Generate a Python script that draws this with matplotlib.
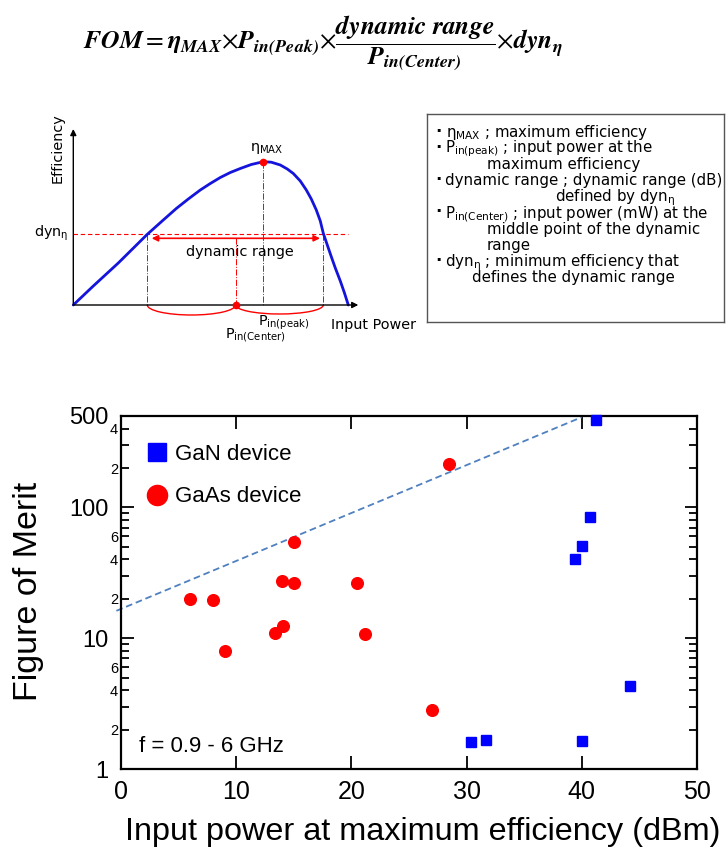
import matplotlib
matplotlib.use('Agg')
import matplotlib.pyplot as plt
from matplotlib.lines import Line2D
from matplotlib.patches import Arc
from matplotlib.ticker import FixedLocator, FixedFormatter

plt.rcParams['font.family'] = ['Liberation Sans', 'DejaVu Sans']
plt.rcParams['mathtext.fontset'] = 'custom'
plt.rcParams['mathtext.rm'] = 'Liberation Sans'
plt.rcParams['mathtext.it'] = 'Liberation Sans'
plt.rcParams['mathtext.bf'] = 'Liberation Sans:bold'

# ---------------- data (main chart) ----------------
gan_power = [41.2, 40.7, 40.0, 39.4, 44.2, 30.4, 31.7, 40.0]
gan_fom = [465, 85, 51, 40, 4.3, 1.6, 1.68, 1.63]
gaas_power = [6.0, 8.0, 9.0, 13.4, 14.1, 14.0, 15.0, 15.0, 20.5, 21.2, 28.5, 27.0]
gaas_fom = [20, 19.6, 8.0, 10.9, 12.5, 27.2, 26.3, 54.5, 26.3, 10.8, 215, 2.84]
trend_power = [-0.4, 40.0]
trend_fom = [16.2, 490]

x_ticks = [0, 10, 20, 30, 40, 50]
x_tick_labels = ['0', '10', '20', '30', '40', '50']
y_major = [1, 10, 100, 500]
y_major_labels = ['1', '10', '100', '500']
y_minor = [2, 3, 4, 5, 6, 7, 8, 9, 20, 30, 40, 50, 60, 70, 80, 90, 200, 300, 400]
y_minor_labels = ['2', '', '4', '', '6', '', '', '', '2', '', '4', '', '6', '', '', '', '2', '', '4']
series_labels = ['GaN device', 'GaAs device']

# ---------------- data (schematic efficiency curve, arbitrary units) ----------------
curve_power = [0, 20, 45, 74, 90, 103, 115, 127, 137, 147, 157, 167, 178, 190, 198, 207,
               214, 220, 227, 233, 238, 243, 247, 250, 254, 258, 262, 267, 271, 275]
curve_eff = [0, 19, 42, 70.7, 85, 96.5, 106, 115, 121.5, 127.5, 132.5, 136.5, 140.5, 143.3,
             142.8, 140, 136, 131.5, 124, 115, 106, 95, 84, 71.7, 60, 48.3, 37, 24, 12.5, 0]
dyn_level = 70.7
dyn_low, dyn_high = 74, 250
p_center = 162.3
p_peak, eta_max = 190, 143.3

W, H = 727, 858
fig = plt.figure(figsize=(W / 100, H / 100), dpi=100)


def fx(px):
    return px / W


def fy(py):
    return 1 - py / H


# ---------------- formula ----------------
formula = (r'$\mathbfit{FOM} = \mathbfit{\eta}_{\mathbfit{MAX}}{\times}\mathbfit{P}_{\mathbfit{in(Peak)}}'
           r'{\times}\dfrac{\mathbfit{dynamic\ range}}{\mathbfit{P}_{\mathbfit{in(Center)}}}'
           r'{\times}\mathbfit{dyn}_{\mathbfit{\eta}}$')
fig.text(fx(323), fy(43), formula, ha='center', va='center', fontsize=18.5, math_fontfamily='stix')

SANS = ['DejaVu Sans']

# ---------------- schematic ----------------
axs = fig.add_axes([fx(73.3 - 30), fy(305 + 45), 400 / W, 230 / H])
axs.set_xlim(-30, 370)
axs.set_ylim(-45, 185)
axs.axis('off')
axs.annotate('', xy=(285, 0), xytext=(0, 0),
             arrowprops=dict(arrowstyle='-|>', color='black', lw=1, mutation_scale=9,
                             shrinkA=0, shrinkB=0))
axs.annotate('', xy=(0, 176), xytext=(0, 0),
             arrowprops=dict(arrowstyle='-|>', color='black', lw=1, mutation_scale=9,
                             shrinkA=0, shrinkB=0))
axs.plot([0, 275], [dyn_level, dyn_level], color='red', lw=0.8, ls=(0, (4, 2.5)))
axs.plot([dyn_low, dyn_low], [dyn_level, 0], color='red', lw=0.7, ls='-.')
axs.plot([dyn_high, dyn_high], [dyn_level, 0], color='red', lw=0.7, ls='-.')
axs.plot([p_peak, p_peak], [eta_max, 0], color='red', lw=0.7, ls='-.')
axs.plot([p_center, p_center], [dyn_level - 4, 0], color='red', lw=0.7, ls='-.')
axs.plot(curve_power, curve_eff, color='#1414dc', lw=2.0, solid_capstyle='round')
axs.annotate('', xy=(dyn_high - 3.3, dyn_level - 4), xytext=(dyn_low + 4.4, dyn_level - 4),
             arrowprops=dict(arrowstyle='<|-|>', color='red', lw=1.2, mutation_scale=9,
                             shrinkA=0, shrinkB=0))
axs.add_patch(Arc(((dyn_low + p_center) / 2, 0), p_center - dyn_low, 20, theta1=180, theta2=360,
                  color='red', lw=1))
axs.add_patch(Arc(((p_center + dyn_high) / 2, 0), dyn_high - p_center, 18, theta1=180, theta2=360,
                  color='red', lw=1))
axs.plot([p_center, p_peak], [0, eta_max], ls='none', marker='o', ms=4.5, color='red', zorder=5)
sfs = 10.4
skw = dict(fontsize=sfs, family=SANS, math_fontfamily='dejavusans')
axs.text(-15.3, 157, 'Efficiency', rotation=90, ha='center', va='center', **skw)
axs.text(257.7, -20, 'Input Power', ha='left', va='center', **skw)
axs.text(166.9, 53.3, 'dynamic range', ha='center', va='center', **skw)
axs.text(-5.3, 68.3, r'dyn$_{\mathrm{\eta}}$', ha='right', va='baseline', **skw)
axs.text(193.7, 154.3, r'$\mathrm{\eta_{MAX}}$', ha='center', va='baseline', **skw)
axs.text(185, -21, r'P$_{\mathrm{in(peak)}}$', ha='left', va='baseline', **skw)
axs.text(151.7, -33.3, r'P$_{\mathrm{in(Center)}}$', ha='left', va='baseline', **skw)

# ---------------- definitions box ----------------
axb = fig.add_axes([fx(427), fy(322), (724 - 427) / W, (322 - 114) / H])
axb.set_xlim(0, 297)
axb.set_ylim(208, 0)
axb.set_xticks([])
axb.set_yticks([])
for sp in axb.spines.values():
    sp.set_color('#555555')
    sp.set_linewidth(1)
box_lines = [
    (19.5, 22.5, True, r'$\mathrm{\eta_{MAX}}$ ; maximum efficiency'),
    (18, 38.7, True, r'P$_{\mathrm{in(peak)}}$ ; input power at the'),
    (59.7, 54.9, False, 'maximum efficiency'),
    (18, 71.1, True, 'dynamic range ; dynamic range (dB)'),
    (128, 87.3, False, r'defined by dyn$_{\mathrm{\eta}}$'),
    (18, 103.5, True, r'P$_{\mathrm{in(Center)}}$ ; input power (mW) at the'),
    (59.7, 119.7, False, 'middle point of the dynamic'),
    (59.7, 135.9, False, 'range'),
    (18, 152.1, True, r'dyn$_{\mathrm{\eta}}$ ; minimum efficiency that'),
    (44.7, 168.3, False, 'defines the dynamic range'),
]
bkw = dict(fontsize=10.8, family=SANS, math_fontfamily='dejavusans')
for bx, by, bullet, txt in box_lines:
    if bullet:
        axb.text(11, by, '·', ha='center', va='baseline', fontsize=12, family=SANS, fontweight='bold')
    axb.text(bx, by, txt, ha='left', va='baseline', **bkw)

# ---------------- main chart ----------------
ax = fig.add_axes([fx(121), fy(769), (697 - 121) / W, (769 - 416) / H])
ax.set_yscale('log')
ax.set_xlim(0, 50)
ax.set_ylim(1, 500)
ax.plot(trend_power, trend_fom, ls=(0, (3.7, 2.1)), color='#4f80bf', lw=1.3, clip_on=False, zorder=2)
ax.plot(gaas_power, gaas_fom, ls='none', marker='o', ms=8.4, color='#ff0000', mec='#ff0000',
        zorder=3, clip_on=False)
ax.plot(gan_power, gan_fom, ls='none', marker='s', ms=7.8, color='#0000ff', mec='#0000ff',
        zorder=3, clip_on=False)

ax.xaxis.set_major_locator(FixedLocator(x_ticks))
ax.xaxis.set_major_formatter(FixedFormatter(x_tick_labels))
ax.yaxis.set_major_locator(FixedLocator(y_major))
ax.yaxis.set_major_formatter(FixedFormatter(y_major_labels))
ax.yaxis.set_minor_locator(FixedLocator(y_minor))
ax.yaxis.set_minor_formatter(FixedFormatter(y_minor_labels))
ax.xaxis.set_minor_locator(FixedLocator([]))
ax.tick_params(axis='x', which='major', direction='in', length=9.5, width=1.3, top=True,
               labelsize=18, pad=8)
ax.tick_params(axis='y', which='major', direction='in', length=9, width=1.3, right=True,
               labelsize=17, pad=9)
ax.tick_params(axis='y', which='minor', direction='in', length=6, width=1.3, right=True,
               labelsize=10.5, pad=2)
for sp in ax.spines.values():
    sp.set_linewidth(1.6)

handles = [Line2D([], [], ls='none', marker='s', ms=13.5, color='#0000ff'),
           Line2D([], [], ls='none', marker='o', ms=14.5, color='#ff0000')]
ax.legend(handles, series_labels, loc='upper left', bbox_to_anchor=(0.043, 0.92), frameon=False,
          fontsize=16, handlelength=1.0, handletextpad=0.3, labelspacing=0.95, borderpad=0,
          borderaxespad=0)
ax.text(0.031, 0.064, 'f = 0.9 - 6 GHz', transform=ax.transAxes, ha='left', va='center', fontsize=16)

fig.text(fx(29), fy(591), 'Figure of Merit', rotation=90, ha='center', va='center', fontsize=24.5)
fig.text(fx(423), fy(832), 'Input power at maximum efficiency (dBm)', ha='center', va='center',
         fontsize=23.3)

fig.savefig('out.png', dpi=100)
